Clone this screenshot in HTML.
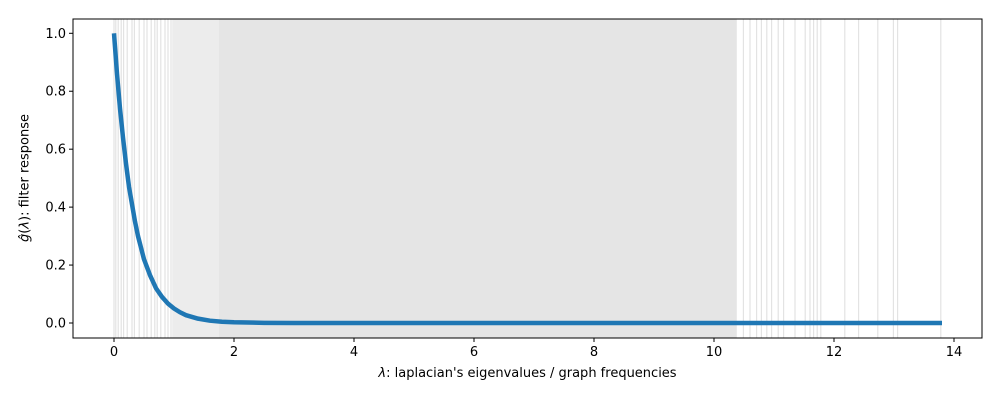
<!DOCTYPE html>
<html><head><meta charset="utf-8"><style>
body{margin:0;background:#fff}
svg{display:block;font-family:"DejaVu Sans","Liberation Sans",sans-serif}
</style></head><body>
<svg id="c" width="1000" height="400"></svg>
<script>
const eigSparse=[0,0.03,0.07,0.12,0.16,0.22,0.3,0.34,0.42,0.5,0.55,0.62,0.68,0.72,0.78,0.85,0.9,0.95,
10.49,10.6,10.71,10.79,10.88,10.96,11.07,11.16,11.35,11.52,11.6,11.66,11.72,11.78,12.18,12.41,12.73,12.99,13.06,13.78];
const eigBands=[[0.97,1.75,'#ececec'],[1.75,10.38,'#e5e5e5']];
const lam=[0,0.05,0.1,0.15,0.2,0.25,0.3,0.35,0.4,0.45,0.5,0.6,0.7,0.8,0.9,1.0,1.1,1.2,1.4,1.6,1.8,2.0,2.5,3,5,8,11,13.8];
const resp=[1,0.86,0.74,0.64,0.55,0.47,0.41,0.35,0.30,0.26,0.22,0.165,0.12,0.09,0.067,0.05,0.037,0.027,0.015,0.008,0.0045,0.0025,0.0006,0.0001,0,0,0,0];
const xTicks=[0,2,4,6,8,10,12,14];
const yTicks=[0,0.2,0.4,0.6,0.8,1.0];
const L=73,R=982,T=19,B=338;
const X=v=>114+v*60, Y=v=>323-v*289.7;
const NS='http://www.w3.org/2000/svg', s=document.getElementById('c');
function mk(t,a,p){const e=document.createElementNS(NS,t);for(const k in a)e.setAttribute(k,a[k]);(p||s).appendChild(e);return e;}
eigBands.forEach(b=>{const r=mk('rect',{x:X(b[0]),y:T,width:X(b[1])-X(b[0]),height:B-T,fill:b[2]});

});
eigSparse.forEach(v=>{const l=mk('line',{x1:X(v),x2:X(v),y1:T,y2:B,stroke:'#e3e3e3','stroke-width':1.2});

});
const pl=mk('polyline',{points:lam.map((v,i)=>X(v)+','+Y(resp[i])).join(' '),fill:'none',stroke:'#1f77b4','stroke-width':4.5,'stroke-linejoin':'round'});


const fr=mk('rect',{x:L,y:T,width:R-L,height:B-T,fill:'none',stroke:'#000','stroke-width':1});


xTicks.forEach(v=>{mk('line',{x1:X(v),x2:X(v),y1:B,y2:B+4,stroke:'#000'});
const t=mk('text',{x:X(v),y:B+18,'text-anchor':'middle','font-size':13});t.textContent=v;

});
yTicks.forEach(v=>{mk('line',{x1:L-4,x2:L,y1:Y(v),y2:Y(v),stroke:'#000'});
const t=mk('text',{x:L-7,y:Y(v)+4.5,'text-anchor':'end','font-size':13});t.textContent=v.toFixed(1);

});
</script>
<svg width="0" height="0"></svg>
<div style="position:absolute;left:0;top:366px;width:1055px;text-align:center;font:13px 'DejaVu Sans','Liberation Sans',sans-serif"><i>λ</i>: laplacian's eigenvalues / graph frequencies</div>
<div style="position:absolute;left:25px;top:178px;transform:translate(-50%,-50%) rotate(-90deg);white-space:nowrap;font:13px 'DejaVu Sans','Liberation Sans',sans-serif"><i>ĝ</i>(<i>λ</i>): filter response</div>
</body></html>
